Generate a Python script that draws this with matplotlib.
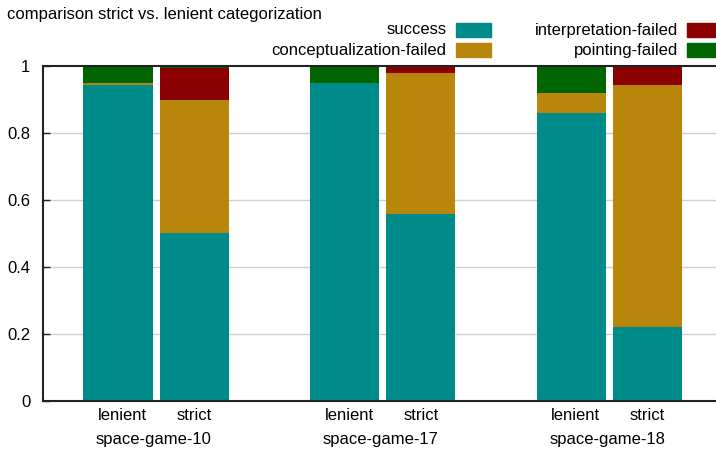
import matplotlib
matplotlib.use("Agg")
import matplotlib.pyplot as plt
from matplotlib.patches import Rectangle
import numpy as np

plt.rcParams['font.family'] = ['Liberation Sans', 'DejaVu Sans']

groups = ["space-game-10", "space-game-17", "space-game-18"]
variants = ["lenient", "strict"]
series_names = ["success", "conceptualization-failed", "interpretation-failed", "pointing-failed"]
colors = ["#008b8b", "#b8860b", "#8b0000", "#006400"]

# values[series][variant][group]
success = {"lenient": [0.943, 0.948, 0.858], "strict": [0.500, 0.558, 0.222]}
conceptualization = {"lenient": [0.006, 0.000, 0.060], "strict": [0.399, 0.420, 0.721]}
interpretation = {"lenient": [0.000, 0.000, 0.000], "strict": [0.094, 0.022, 0.057]}
pointing = {"lenient": [0.051, 0.052, 0.082], "strict": [0.007, 0.000, 0.000]}
series = [success, conceptualization, interpretation, pointing]

W, H = 716, 449
fig = plt.figure(figsize=(W / 100, H / 100), dpi=100)
ax_left = 42.7 / W
ax_bottom = (H - 401) / H
ax_top = (H - 65.7) / H
ax_width = (722.75 - 42.7) / W
ax = fig.add_axes([ax_left, ax_bottom, ax_width, ax_top - ax_bottom])

x = np.arange(len(groups))
offsets = {"lenient": -0.168, "strict": 0.168}
bw = 0.305
for v in variants:
    bottom = np.zeros(len(groups))
    for s, c in zip(series, colors):
        vals = np.array(s[v])
        ax.bar(x + offsets[v], vals, bw, bottom=bottom, color=c, linewidth=0, zorder=2)
        bottom += vals

ax.set_xlim(-0.5, 2.5)
ax.set_ylim(0, 1)
ax.set_yticks([0, 0.2, 0.4, 0.6, 0.8, 1])
ax.set_yticklabels(["0", "0.2", "0.4", "0.6", "0.8", "1"], fontsize=12)
ax.tick_params(axis='y', direction='in', length=5, width=1, pad=9, color='#222222')
ax.set_xticks([])
for yv in [0.2, 0.4, 0.6, 0.8]:
    ax.axhline(yv, color='#d0d0d0', lw=1.0, zorder=1)
for sp in ['left', 'top', 'bottom']:
    ax.spines[sp].set_color('#222222')
    ax.spines[sp].set_linewidth(1.5)
ax.spines['right'].set_visible(False)

tr = ax.get_xaxis_transform()
for i, g in enumerate(groups):
    for v in variants:
        ax.text(x[i] + offsets[v] + (0.02 if v == "lenient" else 0), -0.043, v,
                transform=tr, ha='center', va='center', fontsize=12)
    ax.text(x[i] - 0.01, -0.116, g, transform=tr, ha='center', va='center', fontsize=12)

fig.text(7 / W, 1 - 15 / H, "comparison strict vs. lenient categorization",
         ha='left', va='center', fontsize=12)

# legend (manual, two columns)
leg = [
    (series_names[0], colors[0], 446.5, 456, 30),
    (series_names[1], colors[1], 446.5, 456, 50),
    (series_names[2], colors[2], 678, 687, 30),
    (series_names[3], colors[3], 678, 687, 50),
]
for name, c, tx, sx, yc in leg:
    fig.text(tx / W, 1 - yc / H, name, ha='right', va='center', fontsize=12)
    fig.patches.append(Rectangle((sx / W, 1 - (yc + 6.5) / H), 35 / W, 13 / H,
                                 transform=fig.transFigure, color=c, figure=fig))

fig.savefig("out.png", dpi=100)
